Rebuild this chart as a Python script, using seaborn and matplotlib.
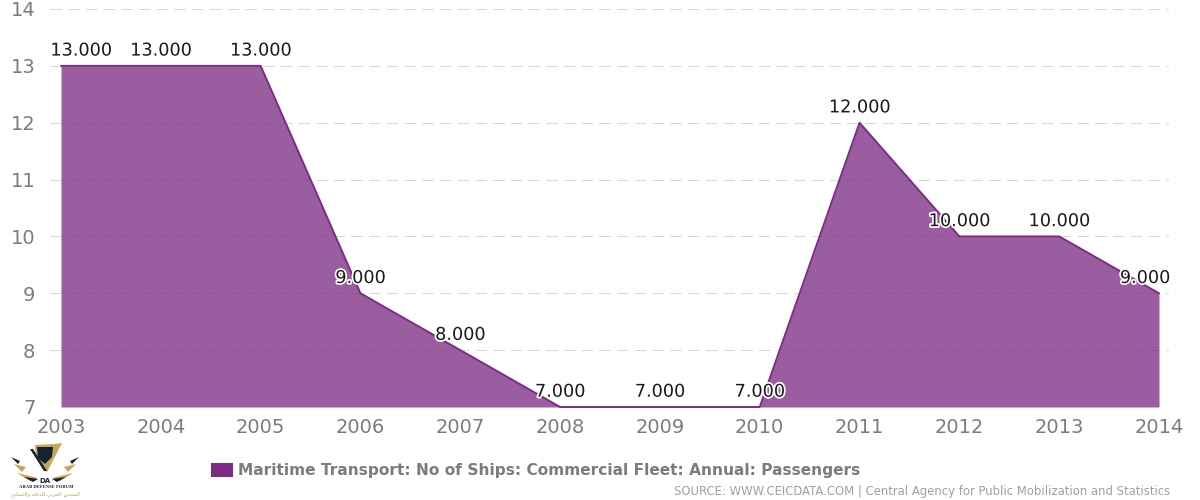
import matplotlib
matplotlib.use("Agg")
import matplotlib.pyplot as plt
import matplotlib.patheffects as pe
from matplotlib.patches import Polygon, Rectangle
import pandas as pd
import seaborn as sns

# --- data ---
years = [2003, 2004, 2005, 2006, 2007, 2008, 2009, 2010, 2011, 2012, 2013, 2014]
ships = [13, 13, 13, 9, 8, 7, 7, 7, 12, 10, 10, 9]
y_ticks = [7, 8, 9, 10, 11, 12, 13, 14]
series_name = "Maritime Transport: No of Ships: Commercial Fleet: Annual: Passengers"
source_text = "SOURCE: WWW.CEICDATA.COM | Central Agency for Public Mobilization and Statistics"
# the end labels get pushed inwards so they stay inside the plot
label_shift = [20, 0, 0, 0, 0, 0, 0, 0, 0, 0, 0, -14]

PURPLE = "#7b2c83"
GREY = "#7c7c7c"

sns.set_style("white")
plt.rcParams["font.family"] = ["DejaVu Sans"]

df = pd.DataFrame({"year": years, "ships": ships})

fig = plt.figure(figsize=(12, 5), dpi=100)
ax = fig.add_axes([50 / 1200, 1 - 407 / 500, 1119 / 1200, 398 / 500])

# --- grid goes under the translucent area ---
ax.set_axisbelow(True)
ax.grid(True, axis="y", color="#d8d8d8", linestyle=(0, (11, 6)), linewidth=0.75)
ax.grid(False, axis="x")

# --- area and outline ---
ax.fill_between(df["year"], df["ships"], 7, color=PURPLE, alpha=0.76, linewidth=0, zorder=2)
sns.lineplot(data=df, x="year", y="ships", color=PURPLE, linewidth=1.4, ax=ax, zorder=3, clip_on=False)

# --- axes ---
ax.set_xlim(2003 - 11 / 99.8, 2014 + 10 / 99.8)
ax.set_ylim(7, 14)
ax.set_xticks(years)
ax.set_yticks(y_ticks)
ax.set_xlabel("")
ax.set_ylabel("")
sns.despine(ax=ax, left=True, bottom=True)
ax.tick_params(axis="x", length=0, pad=8, labelsize=14, labelcolor=GREY)
ax.tick_params(axis="y", length=0, pad=10.5, labelsize=14, labelcolor=GREY)

# --- value labels ---
halo = [pe.withStroke(linewidth=2.5, foreground="white")]
for x, y, shift in zip(years, ships, label_shift):
    ax.annotate(f"{y:.3f}", (x, y), xytext=(shift * 0.72, 11), textcoords="offset points",
                ha="center", va="center", fontsize=12.7, color="#1a1a1a",
                path_effects=halo, zorder=5, annotation_clip=False)

# --- legend and source, placed by hand ---
fig.add_artist(Rectangle((211 / 1200, 1 - 477 / 500), 22 / 1200, 14 / 500, color=PURPLE, linewidth=0))
fig.text(238 / 1200, 1 - 470 / 500, series_name, ha="left", va="center",
         fontsize=11.1, fontweight="bold", color=GREY)
fig.text(1170 / 1200, 1 - 491 / 500, source_text, ha="right", va="center", fontsize=8.35, color="#a0a0a0")

# --- logo, small shapes in pixel coordinates ---
def logo_shape(points, color):
    pts = [(px / 1200, 1 - py / 500) for px, py in points]
    fig.add_artist(Polygon(pts, closed=True, color=color, linewidth=0))

GOLD = "#c9a55c"
NAVY = "#14242e"
logo_shape([(35, 445), (54, 444), (62, 443), (47, 472), (42, 468), (36, 458)], GOLD)
logo_shape([(37, 447), (53, 447), (52, 457), (45, 464), (38, 458)], NAVY)
logo_shape([(30, 449), (33, 449), (47, 471), (44, 471)], NAVY)
logo_shape([(11, 457), (20, 461), (18, 464)], NAVY)
logo_shape([(14, 464), (26, 467), (22, 472)], GOLD)
logo_shape([(79, 457), (70, 461), (72, 464)], NAVY)
logo_shape([(76, 464), (64, 467), (68, 472)], GOLD)
logo_shape([(17, 473), (38, 478), (30, 481)], GOLD)
logo_shape([(73, 473), (52, 478), (60, 481)], GOLD)
logo_shape([(24, 477), (38, 479), (33, 482)], NAVY)
logo_shape([(66, 477), (52, 479), (57, 482)], NAVY)
fig.text(45 / 1200, 1 - 481 / 500, "DA", ha="center", va="center", fontsize=5, fontweight="bold", color=NAVY)
fig.text(46 / 1200, 1 - 486.5 / 500, "ARAB DEFENSE FORUM", ha="center", va="center",
         fontsize=3.3, fontweight="bold", family="Liberation Serif", color=NAVY)
# Arabic in presentation forms because matplotlib does not shape it
fig.text(46 / 1200, 1 - 494.5 / 500, "\ufea2\ufef4\ufee0\ufeb4\ufe98\ufedf\ufe8d\ufeed \ufeea\ufe8e\ufed3\ufeaa\ufee0\ufedf \ufef2\ufe91\ufeae\ufecc\ufedf\ufe8d \ufef1\ufeaa\ufe98\ufee8\ufee4\ufedf\ufe8d",
         ha="center", va="center", fontsize=3.9, color=GOLD)

fig.savefig("out.png", dpi=100)
